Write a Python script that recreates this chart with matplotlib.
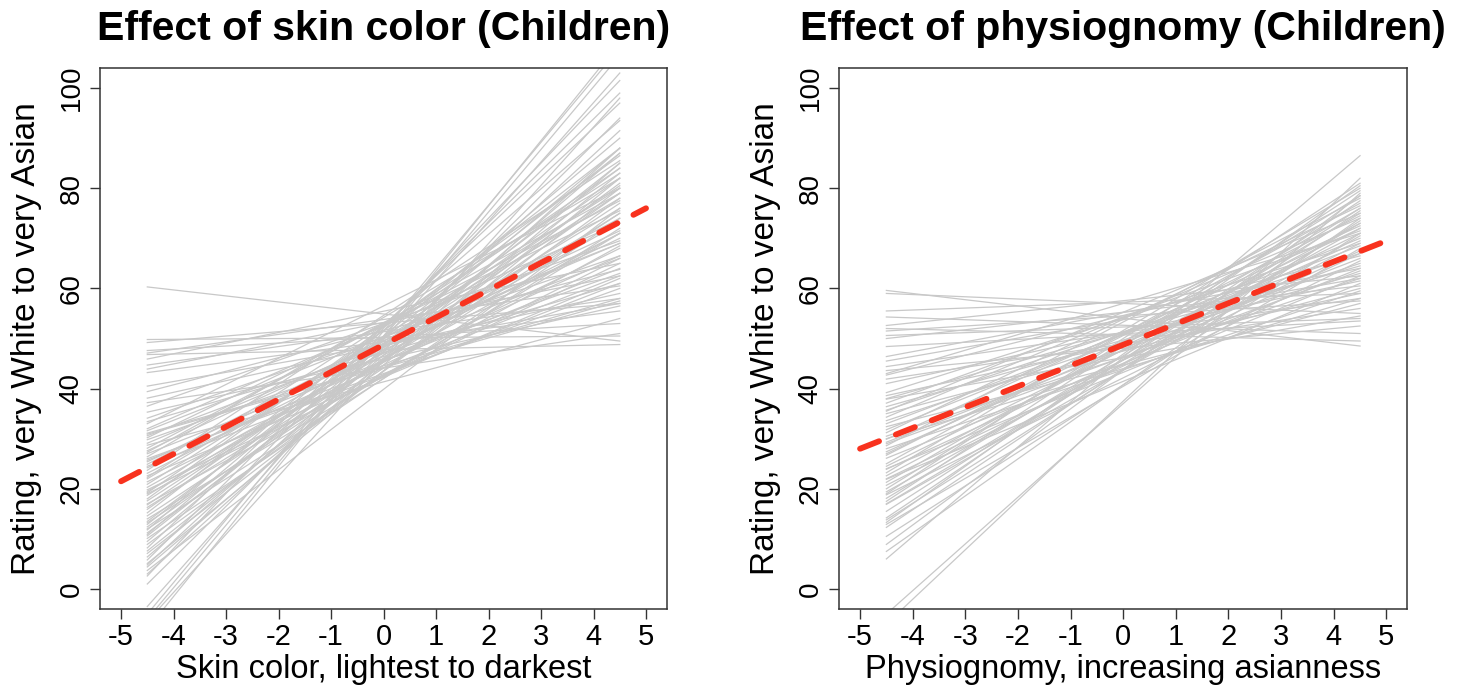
import matplotlib
matplotlib.use("Agg")
import matplotlib.pyplot as plt

plt.rcParams['font.family'] = ['Liberation Sans', 'DejaVu Sans']
plt.rcParams['axes.unicode_minus'] = False

# Left panel: fitted value of each child at x = -4.5 and x = 4.5
skin_left = [60.3, 49.8, 49.2, 47.6, 47.1, 46.8, 45.9, 44.7, 43.9, 43.2,
             39.4, 38.1, 37.2, 36.5, 35.3, 34.1, 33.4, 32.0, 31.1, 30.6,
             30.2, 29.8, 29.1, 28.7, 28.1, 27.6, 27.0, 26.4, 26.0, 25.4,
             24.9, 24.2, 23.7, 23.1, 22.6, 22.0, 21.4, 20.9, 20.3, 19.8,
             19.2, 18.7, 18.0, 17.6, 17.0, 16.3, 15.9, 15.2, 14.6, 14.0,
             13.5, 12.9, 12.4, 11.8, 11.2, 10.6, 10.1, 9.5, 8.9, 8.2,
             7.6, 7.1, 6.4, 5.8, 5.1, 4.4, 3.7, 3.0, 2.6, 1.0,
             -3.5, -5.0, -6.5, -6.0, -8.0, 31.6, 27.3, 25.7, 22.3, 19.5,
             16.8, 13.2, 10.9, 12.0, 4.8, 30.9, 19.0, 33.0, 40.5, 24.5]
skin_right = [49.5, 50.5, 57.0, 53.0, 60.5, 48.8, 65.0, 58.0, 62.5, 55.5,
              63.8, 59.0, 51.0, 69.5, 56.5, 66.5, 61.0, 73.0, 58.0, 66.0,
              75.5, 63.0, 69.0, 54.0, 77.5, 71.5, 64.0, 82.0, 60.0, 70.0,
              74.0, 66.5, 85.5, 71.0, 62.0, 78.0, 68.0, 80.0, 73.0, 65.0,
              84.0, 76.0, 86.5, 79.0, 68.5, 75.0, 82.0, 88.0, 77.0, 71.0,
              84.0, 87.0, 79.0, 93.5, 81.0, 85.0, 74.0, 88.0, 78.0, 97.0,
              83.0, 80.0, 87.0, 99.0, 82.0, 85.0, 76.0, 88.0, 101.5, 94.0,
              103.0, 108.0, 98.0, 106.5, 109.0, 69.0, 79.0, 62.5, 83.0, 71.0,
              80.5, 75.0, 90.0, 72.0, 91.5, 57.5, 66.0, 80.0, 57.0, 61.0]

# Right panel
phys_left = [59.6, 59.0, 54.3, 52.6, 52.0, 51.5, 50.6, 50.0, 48.4, 46.4,
             44.4, 43.6, 42.7, 41.9, 41.0, 39.2, 38.6, 37.9, 37.1, 36.4,
             35.7, 35.0, 34.3, 33.6, 32.4, 31.8, 31.2, 30.5, 29.9, 29.3,
             28.6, 28.0, 27.4, 26.7, 26.1, 25.0, 24.5, 23.9, 23.2, 22.6,
             21.9, 21.3, 20.7, 20.0, 19.4, 18.8, 18.1, 17.5, 16.9, 14.2,
             13.8, 13.3, 12.9, 12.3, 8.9, 7.5, 6.0, -5.0, -7.0, 45.5,
             33.0, 27.0, 24.0, 15.5, 38.0, 30.0, 22.0, 19.0, 35.5, 55.5,
             43.0, 29.0, 17.0, 10.5]
phys_right = [48.5, 55.0, 51.0, 62.5, 49.5, 57.5, 54.0, 60.5, 53.5, 64.0,
              58.0, 52.5, 66.5, 56.0, 61.5, 69.0, 59.0, 54.5, 71.5, 63.0,
              67.0, 60.0, 74.0, 65.0, 57.0, 70.0, 76.5, 62.0, 72.5, 66.0,
              78.0, 59.5, 69.5, 74.5, 64.0, 77.0, 71.0, 67.5, 80.0, 73.0,
              61.0, 76.0, 69.0, 78.5, 72.0, 65.5, 75.0, 79.5, 70.5, 77.5,
              73.5, 80.5, 68.0, 75.5, 78.5, 74.0, 86.5, 79.0, 82.0, 62.0,
              68.5, 72.0, 62.5, 76.0, 64.5, 58.0, 67.0, 81.0, 75.0, 59.0,
              71.0, 63.5, 73.0, 71.0]

# endpoints of the individual lines and of the average (red) line
line_x = [-4.5, 4.5]
avg_x = [-5, 5]
skin_avg = [21.5, 76.0]
phys_avg = [28.0, 69.5]

titles = ['Effect of skin color (Children)', 'Effect of physiognomy (Children)']
xlabels = ['Skin color, lightest to darkest', 'Physiognomy, increasing asianness']
ylabel = 'Rating, very White to very Asian'

fig = plt.figure(figsize=(14.65, 6.87), dpi=100)
ax1 = fig.add_axes([0.0683, 0.1135, 0.3870, 0.7875])
ax2 = fig.add_axes([0.5727, 0.1135, 0.3880, 0.7875])

panels = [(ax1, skin_left, skin_right, skin_avg), (ax2, phys_left, phys_right, phys_avg)]
for i, (ax, left, right, avg) in enumerate(panels):
    for a, b in zip(left, right):
        ax.plot(line_x, [a, b], color='#c8c8c8', lw=0.9)
    ax.plot(avg_x, avg, color='#f8321e', lw=4.2, linestyle=(0, (3.5, 3.1)),
            dash_capstyle='round')
    ax.set_xlim(-5.4, 5.4)
    ax.set_ylim(-4, 104)
    ax.set_xticks(range(-5, 6))
    ax.set_yticks(range(0, 101, 20))
    ax.tick_params(direction='out', length=7, width=1, color='#333333')
    ax.tick_params(axis='x', labelsize=21, pad=3)
    ax.tick_params(axis='y', labelsize=20, pad=4, labelrotation=90)
    for lab in ax.get_yticklabels():
        lab.set_va('center')
    for s in ax.spines.values():
        s.set_color('#333333')
        s.set_linewidth(1.1)
    ax.set_title(titles[i], fontsize=29.5, fontweight='bold', pad=20)
    ax.set_xlabel(xlabels[i], fontsize=23.5, labelpad=2)
    ax.set_ylabel(ylabel, fontsize=24, labelpad=12)

fig.savefig('out.png', dpi=100)
